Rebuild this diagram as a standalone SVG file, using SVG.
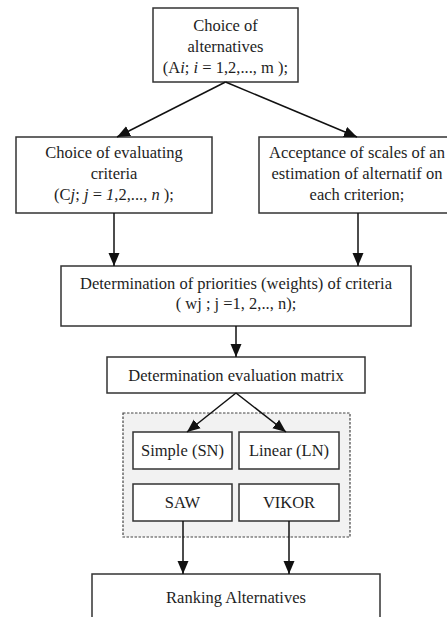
<svg xmlns="http://www.w3.org/2000/svg" width="447" height="617" viewBox="0 0 447 617">
<defs>
<marker id="ah" markerUnits="userSpaceOnUse" markerWidth="14" markerHeight="12" refX="13" refY="6" orient="auto">
<path d="M0,0.5 L13,6 L0,11.5 Z" fill="#111"/>
</marker>
<style>
.box{fill:#fff;stroke:#333;stroke-width:1.5}
.grp{fill:#f2f2f2;stroke:#444;stroke-width:1.2;stroke-dasharray:2.5 1.5}
text{font-family:"Liberation Serif","Times New Roman",serif;font-size:16.5px;fill:#1e1e1e;text-anchor:middle}
.it{font-style:italic}
.con{stroke:#111;stroke-width:1.5;fill:none;marker-end:url(#ah)}
</style>
</defs>
<rect width="447" height="617" fill="#fff"/>
<g id="group-methods"><rect class="grp" x="123" y="413" width="227" height="124"/></g>
<g id="n-alternatives">
<rect class="box" x="153" y="8" width="145" height="74"/>
<text x="225.5" y="31">Choice of</text>
<text x="225.5" y="52">alternatives</text>
<text x="225.5" y="73">(A<tspan class="it">i</tspan>; <tspan class="it">i</tspan> = 1,2,..., m );</text>
</g>
<g id="n-criteria">
<rect class="box" x="16" y="137" width="196" height="76"/>
<text x="114" y="158">Choice of evaluating</text>
<text x="114" y="179">criteria</text>
<text x="114" y="200">(C<tspan class="it">j</tspan>; <tspan class="it">j</tspan> = <tspan class="it">1</tspan>,2,..., <tspan class="it">n</tspan> );</text>
</g>
<g id="n-scales">
<rect class="box" x="259" y="137" width="197" height="76"/>
<text x="357" y="158">Acceptance of scales of an</text>
<text x="357" y="179">estimation of alternatif on</text>
<text x="357" y="200">each criterion;</text>
</g>
<g id="n-weights">
<rect class="box" x="61" y="266" width="350" height="60"/>
<text x="236" y="289">Determination of priorities (weights) of criteria</text>
<text x="236" y="309">( wj ; j =1, 2,.., n);</text>
</g>
<g id="n-matrix">
<rect class="box" x="107" y="357" width="258" height="36"/>
<text x="236" y="381">Determination evaluation matrix</text>
</g>
<g id="n-simple">
<rect class="box" x="133" y="432" width="99" height="37"/>
<text x="182.5" y="456">Simple (SN)</text>
</g>
<g id="n-linear">
<rect class="box" x="239" y="432" width="100" height="37"/>
<text x="289" y="456">Linear (LN)</text>
</g>
<g id="n-saw">
<rect class="box" x="133" y="484" width="99" height="37"/>
<text x="182.5" y="508">SAW</text>
</g>
<g id="n-vikor">
<rect class="box" x="239" y="484" width="100" height="37"/>
<text x="289" y="508">VIKOR</text>
</g>
<g id="n-ranking">
<rect class="box" x="92" y="574" width="288" height="60"/>
<text x="236" y="603">Ranking Alternatives</text>
</g>
<g id="connectors">
<line class="con" x1="225.5" y1="82" x2="117" y2="137"/>
<line class="con" x1="225.5" y1="82" x2="357" y2="137"/>
<line class="con" x1="114" y1="213" x2="114" y2="266"/>
<line class="con" x1="358" y1="213" x2="358" y2="266"/>
<line class="con" x1="236" y1="326" x2="236" y2="357"/>
<line class="con" x1="236" y1="393" x2="187" y2="432"/>
<line class="con" x1="236" y1="393" x2="286" y2="432"/>
<line class="con" x1="183" y1="521" x2="183" y2="574"/>
<line class="con" x1="289" y1="521" x2="289" y2="574"/>
</g>
</svg>
